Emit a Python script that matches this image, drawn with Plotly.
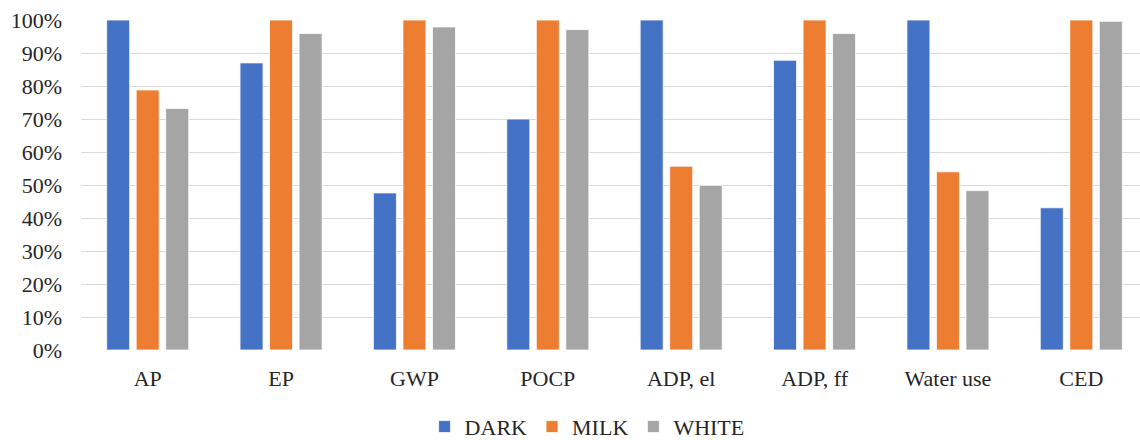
import plotly.graph_objects as go

# Impact categories and relative scores per chocolate type (share of the maximum)
categories = ["AP", "EP", "GWP", "POCP", "ADP, el", "ADP, ff", "Water use", "CED"]
dark = [1.00, 0.87, 0.476, 0.70, 1.00, 0.878, 1.00, 0.431]
milk = [0.788, 1.00, 1.00, 1.00, 0.557, 1.00, 0.54, 1.00]
white = [0.732, 0.959, 0.979, 0.971, 0.499, 0.959, 0.483, 0.996]

series = [
    ("DARK", dark, "#4472C4"),
    ("MILK", milk, "#ED7D31"),
    ("WHITE", white, "#A5A5A5"),
]

serif = "Liberation Serif"
text_color = "#262626"

fig = go.Figure()
for name, values, color in series:
    fig.add_trace(go.Bar(
        name=name,
        x=categories,
        y=values,
        marker=dict(color=color, line=dict(color="white", width=0.8)),
    ))

fig.update_layout(
    width=1140,
    height=440,
    barmode="group",
    bargap=0.336,
    bargroupgap=0.22,
    plot_bgcolor="white",
    paper_bgcolor="white",
    margin=dict(l=81, r=0, t=20, b=90, autoexpand=False),
    font=dict(family=serif, size=22, color=text_color),
    showlegend=True,
    legend=dict(
        orientation="h",
        xref="container",
        yref="container",
        x=0.515,
        xanchor="center",
        y=0.03,
        yanchor="middle",
        font=dict(family=serif, size=22, color=text_color),
        traceorder="normal",
    ),
    xaxis=dict(
        range=[-0.5, 7.44],
        showgrid=False,
        showline=False,
        zeroline=False,
        ticks="",
        ticklabelstandoff=13,
        tickfont=dict(family=serif, size=22, color=text_color),
    ),
    yaxis=dict(
        range=[0, 1],
        dtick=0.1,
        tickformat=".0%",
        showgrid=True,
        gridcolor="#D9D9D9",
        gridwidth=1.2,
        zeroline=False,
        showline=False,
        ticks="",
        ticklabelstandoff=18,
        tickfont=dict(family=serif, size=22, color=text_color),
    ),
)

fig.write_html("out.html")
